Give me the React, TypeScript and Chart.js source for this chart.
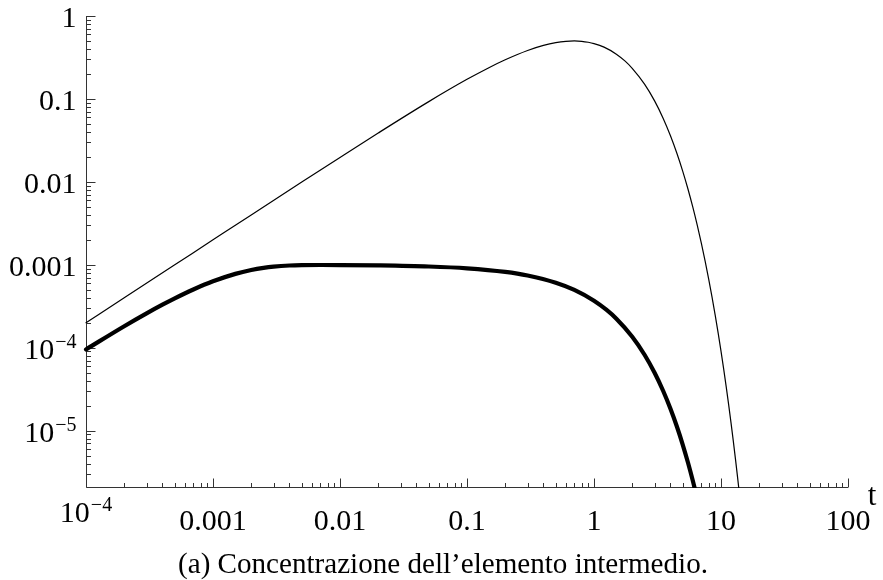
import React, { useEffect, useRef } from "react";
import { Chart, registerables } from "chart.js";

Chart.register(...registerables);

// Intermediate concentration, fast first step (thin curve)
const thinT = [
  1e-4, 2e-4, 5e-4, 1e-3, 2e-3, 5e-3, 0.01, 0.02, 0.05, 0.1, 0.15, 0.2, 0.3, 0.4,
  0.5, 0.6, 0.7, 0.8, 0.9, 1, 1.2, 1.5, 1.75, 2, 2.5, 3, 3.5, 4, 4.5, 5, 5.5, 6,
  6.5, 7, 7.5, 8, 8.5, 9, 9.5, 10, 10.5, 11, 11.5, 12, 12.5, 13, 13.5, 14,
];
const thinC = [
  2.0e-4, 4.0e-4, 9.99e-4, 0.001997, 0.00399, 0.009925, 0.0197, 0.03882, 0.09278,
  0.1722, 0.2398, 0.2968, 0.384, 0.442, 0.4773, 0.4952, 0.5, 0.4949, 0.4825, 0.4651,
  0.421, 0.3467, 0.2872, 0.234, 0.1507, 0.09462, 0.05857, 0.03596, 0.02197, 0.01339,
  0.00814, 0.004945, 0.003002, 0.001822, 0.001106, 6.707e-4, 4.069e-4, 2.468e-4,
  1.497e-4, 9.08e-5, 5.507e-5, 3.34e-5, 2.026e-5, 1.229e-5, 7.453e-6, 4.521e-6,
  2.742e-6, 1.663e-6,
];

// Intermediate concentration, fast second step (thick curve)
const thickT = [
  1e-4, 2e-4, 3e-4, 4e-4, 5e-4, 7e-4, 1e-3, 1.5e-3, 2e-3, 2.5e-3, 3e-3, 4e-3, 5e-3,
  7e-3, 0.01, 0.02, 0.05, 0.1, 0.2, 0.3, 0.5, 0.7, 1, 1.25, 1.5, 2, 2.5, 3, 3.5, 4,
  4.5, 5, 5.5, 6, 6.5,
];
const thickC = [
  9.52e-5, 1.813e-4, 2.591e-4, 3.296e-4, 3.934e-4, 5.032e-4, 6.318e-4, 7.762e-4,
  8.635e-4, 9.163e-4, 9.482e-4, 9.787e-4, 9.893e-4, 9.931e-4, 9.91e-4, 9.812e-4,
  9.522e-4, 9.057e-4, 8.196e-4, 7.416e-4, 6.071e-4, 4.971e-4, 3.683e-4, 2.868e-4,
  2.234e-4, 1.355e-4, 8.217e-5, 4.984e-5, 3.023e-5, 1.833e-5, 1.112e-5, 6.745e-6,
  4.091e-6, 2.481e-6, 1.505e-6,
];

const xTickValues = [1e-4, 1e-3, 0.01, 0.1, 1, 10, 100];
const xTickLabels = ["10^\u22124", "0.001", "0.01", "0.1", "1", "10", "100"];
const yTickValues = [1, 0.1, 0.01, 0.001, 1e-4, 1e-5];
const yTickLabels = ["1", "0.1", "0.01", "0.001", "10^\u22124", "10^\u22125"];

const X_MIN = 1e-4;
const X_MAX = 100;
const Y_MIN = 2.03e-6;
const Y_MAX = 1;

const AXIS_LABEL = "t";
const CAPTION = "(a) Concentrazione dell\u2019elemento intermedio.";

const W = 883;
const H = 580;
const FONT = "'Liberation Serif', 'Times New Roman', serif";
const AXIS_COLOR = "#333333";

function drawTickLabel(
  ctx: CanvasRenderingContext2D,
  text: string,
  x: number,
  baseline: number,
  align: "center" | "right"
) {
  const [base, exp] = text.split("^");
  ctx.textAlign = "left";
  ctx.textBaseline = "alphabetic";
  ctx.font = `30px ${FONT}`;
  const wb = ctx.measureText(base).width;
  let we = 0;
  if (exp) {
    ctx.font = `20px ${FONT}`;
    we = ctx.measureText(exp).width + 1;
  }
  const total = wb + we;
  const start = align === "center" ? x - total / 2 : x - total;
  ctx.font = `30px ${FONT}`;
  ctx.fillText(base, start, baseline);
  if (exp) {
    ctx.font = `20px ${FONT}`;
    ctx.fillText(exp, start + wb + 1, baseline - 11);
  }
}

function logTicks(min: number, max: number) {
  const out: { v: number; major: boolean }[] = [];
  const lo = Math.floor(Math.log10(min));
  const hi = Math.ceil(Math.log10(max));
  for (let n = lo; n <= hi; n++) {
    for (let k = 1; k <= 9; k++) {
      const v = k * Math.pow(10, n);
      if (v >= min * 0.9999 && v <= max * 1.0001) out.push({ v, major: k === 1 });
    }
  }
  return out;
}

const axesPlugin = {
  id: "frameAxes",
  beforeDatasetsDraw(chart: any) {
    const { ctx, chartArea: a, scales } = chart;
    const xs = scales.x;
    const ys = scales.y;
    const ax = a.left + 0.5;
    const ay = a.bottom - 0.5;
    ctx.save();
    ctx.strokeStyle = AXIS_COLOR;
    ctx.lineWidth = 1;
    ctx.beginPath();
    ctx.moveTo(ax, a.top);
    ctx.lineTo(ax, ay);
    ctx.lineTo(a.right, ay);
    for (const t of logTicks(X_MIN, X_MAX)) {
      const px = Math.round(xs.getPixelForValue(t.v)) + 0.5;
      ctx.moveTo(px, ay);
      ctx.lineTo(px, ay - (t.major ? 9 : 4.5));
    }
    for (const t of logTicks(Y_MIN, Y_MAX)) {
      const py = Math.round(ys.getPixelForValue(t.v)) + 0.5;
      ctx.moveTo(ax, py);
      ctx.lineTo(ax + (t.major ? 9 : 4.5), py);
    }
    ctx.stroke();
    ctx.restore();
  },
  afterDraw(chart: any) {
    const { ctx, chartArea: a, scales } = chart;
    const xs = scales.x;
    const ys = scales.y;
    ctx.save();
    ctx.fillStyle = "#000";
    xTickValues.forEach((v, i) => {
      const label = xTickLabels[i];
      const px = xs.getPixelForValue(v);
      const baseline = label.includes("^") ? a.bottom + 34 : a.bottom + 42;
      drawTickLabel(ctx, label, px, baseline, "center");
    });
    yTickValues.forEach((v, i) => {
      const py = ys.getPixelForValue(v);
      drawTickLabel(ctx, yTickLabels[i], a.left - 9.5, py + 11, "right");
    });
    // axis name at the end of the horizontal axis
    ctx.font = `31px ${FONT}`;
    ctx.textAlign = "center";
    ctx.textBaseline = "alphabetic";
    ctx.fillText(AXIS_LABEL, a.right + 24, a.bottom + 17);
    // caption under the plot
    const targetWidth = 530;
    ctx.font = `27px ${FONT}`;
    const w = ctx.measureText(CAPTION).width;
    const size = (27 * targetWidth) / w;
    ctx.font = `${size.toFixed(2)}px ${FONT}`;
    ctx.fillText(CAPTION, 443, 573);
    ctx.restore();
  },
};

export default function App() {
  const ref = useRef<HTMLCanvasElement | null>(null);

  useEffect(() => {
    if (!ref.current) return;
    const thin = thinT.map((t, i) => ({ x: t, y: thinC[i] }));
    const thick = thickT.map((t, i) => ({ x: t, y: thickC[i] }));
    const chart = new Chart(ref.current, {
      type: "line",
      data: {
        datasets: [
          {
            data: thin,
            borderColor: "#000",
            borderWidth: 1.2,
            pointRadius: 0,
            fill: false,
            cubicInterpolationMode: "monotone",
            borderCapStyle: "round",
            borderJoinStyle: "round",
            clip: { left: 4, top: 4, right: 4, bottom: 0 },
          } as any,
          {
            data: thick,
            borderColor: "#000",
            borderWidth: 4.2,
            pointRadius: 0,
            fill: false,
            cubicInterpolationMode: "monotone",
            borderCapStyle: "round",
            borderJoinStyle: "round",
            clip: { left: 4, top: 4, right: 4, bottom: 0 },
          } as any,
        ],
      },
      options: {
        responsive: false,
        animation: false,
        devicePixelRatio: 1,
        layout: { padding: { left: 86, top: 16, right: 35, bottom: 92 } },
        plugins: {
          legend: { display: false },
          tooltip: { enabled: false },
        },
        elements: { point: { radius: 0 } },
        scales: {
          x: { type: "logarithmic", min: X_MIN, max: X_MAX, display: false },
          y: { type: "logarithmic", min: Y_MIN, max: Y_MAX, display: false },
        },
      },
      plugins: [axesPlugin],
    });
    return () => chart.destroy();
  }, []);

  return (
    <div
      style={{
        position: "absolute",
        left: 0,
        top: 0,
        width: W,
        height: H,
        background: "#fff",
      }}
    >
      <canvas ref={ref} width={W} height={H} style={{ width: W, height: H, display: "block" }} />
    </div>
  );
}
